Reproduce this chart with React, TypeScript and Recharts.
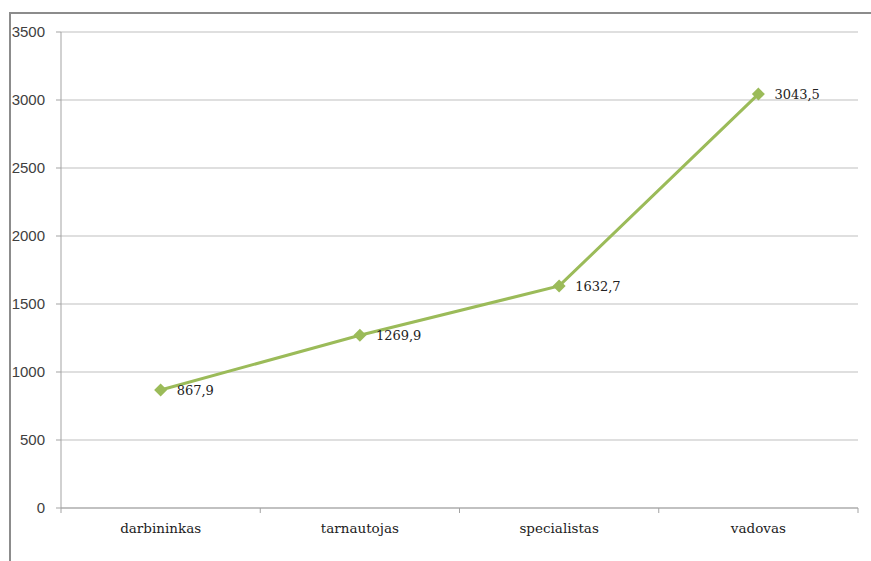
import React from 'react'
import {
  LineChart, Line, XAxis, YAxis, CartesianGrid, LabelList,
} from 'recharts'

const categories = ['darbininkas', 'tarnautojas', 'specialistas', 'vadovas']
const values     = [867.9, 1269.9, 1632.7, 3043.5]
const yTicks     = [0, 500, 1000, 1500, 2000, 2500, 3000, 3500]
const xTicks     = [0, 0.5, 1, 1.5, 2, 2.5, 3, 3.5, 4]

const GREEN = '#9bbb59'
const GRID  = '#bfbfbf'
const AXIS  = '#a3a3a3'
const SERIF = '"DejaVu Serif", serif'
const SANS  = '"Liberation Sans", Arial, sans-serif'

const data = categories.map((name, i) => ({ x: i + 0.5, name, value: values[i] }))

function XTick(props: any) {
  const { x, y, payload } = props
  const v = payload.value as number
  if (Number.isInteger(v)) {
    return <line x1={x} x2={x} y1={y} y2={y + 5} stroke={AXIS} />
  }
  return (
    <text x={x} y={y + 25} textAnchor="middle" fontFamily={SERIF} fontSize={13.5} fill="#222">
      {categories[Math.floor(v)]}
    </text>
  )
}

function Diamond(props: any) {
  const { cx, cy } = props
  if (cx == null || cy == null) return null
  const r = 6.5
  return <polygon points={`${cx},${cy - r} ${cx + r},${cy} ${cx},${cy + r} ${cx - r},${cy}`} fill={GREEN} />
}

export default function App() {
  return (
    <div style={{ position: 'absolute', left: 0, top: 0, width: 871, height: 561, background: '#fff', overflow: 'hidden' }}>
      <div style={{ position: 'absolute', left: 9, top: 12, width: 900, height: 600, border: '2px solid #8c8c8c', boxSizing: 'border-box' }} />
      <div style={{ position: 'absolute', left: 0, top: 0 }}>
        <LineChart width={871} height={561} data={data} margin={{ top: 32, right: 13, bottom: 0, left: 0 }}>
          <CartesianGrid vertical={false} stroke={GRID} />
          <XAxis
            dataKey="x"
            type="number"
            domain={[0, 4]}
            ticks={xTicks}
            interval={0}
            height={53}
            tick={<XTick />}
            tickLine={false}
            tickSize={0}
            tickMargin={0}
            axisLine={{ stroke: AXIS }}
          />
          <YAxis
            domain={[0, 3500]}
            ticks={yTicks}
            interval={0}
            width={61}
            tickSize={5}
            tickMargin={11}
            tick={{ fontFamily: SANS, fontSize: 15, fill: '#404040' }}
            tickLine={{ stroke: AXIS }}
            axisLine={{ stroke: AXIS }}
          />
          <Line
            dataKey="value"
            stroke={GREEN}
            strokeWidth={3}
            dot={<Diamond />}
            activeDot={false}
            isAnimationActive={false}
          >
            <LabelList
              dataKey="value"
              position="right"
              offset={16}
              formatter={(v: any) => String(v).replace('.', ',')}
              style={{ fontFamily: SERIF, fontSize: 13, fill: '#222' }}
            />
          </Line>
        </LineChart>
      </div>
    </div>
  )
}
